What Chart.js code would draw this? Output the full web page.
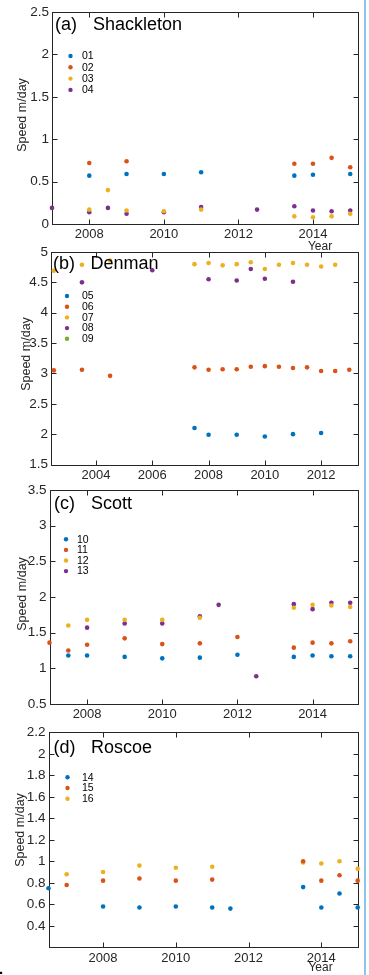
<!DOCTYPE html>
<html><head><meta charset="utf-8">
<script src="https://cdn.jsdelivr.net/npm/chart.js@4.4.1/dist/chart.umd.min.js"></script>
<style>
html,body{margin:0;padding:0;background:#fff;width:369px;height:975px;overflow:hidden;}
canvas{position:absolute;left:0;top:0;}
#edge{position:absolute;left:364px;top:0;width:2px;height:975px;background:#8ec3ea;}
#dot{position:absolute;left:-1px;top:960px;font:bold 15px 'Liberation Sans',Arial,sans-serif;color:#000;}
</style></head><body>
<canvas id="ca" width="369" height="975"></canvas>
<canvas id="cb" width="369" height="975"></canvas>
<canvas id="cc" width="369" height="975"></canvas>
<canvas id="cd" width="369" height="975"></canvas>
<div id="edge"></div>
<span id="dot">.</span>
<script>
// ---------- DATA ----------
// (a) Shackleton
const xTicksA = [2008, 2010, 2012, 2014];
const xLabelsA = ['2008', '2010', '2012', '2014'];
const yTicksA = [0, 0.5, 1, 1.5, 2, 2.5];
const yLabelsA = ['0', '0.5', '1', '1.5', '2', '2.5'];
const s01x = [2008, 2009, 2010, 2011, 2013.5, 2014, 2015];
const s01y = [0.57, 0.59, 0.59, 0.61, 0.57, 0.58, 0.59];
const s02x = [2008, 2009, 2013.5, 2014, 2014.5, 2015];
const s02y = [0.72, 0.74, 0.71, 0.71, 0.78, 0.67];
const s03x = [2008, 2008.5, 2009, 2010, 2011, 2013.5, 2014, 2014.5, 2015];
const s03y = [0.17, 0.40, 0.16, 0.15, 0.17, 0.09, 0.08, 0.09, 0.12];
const s04x = [2007, 2008, 2008.5, 2009, 2010, 2011, 2012.5, 2013.5, 2014, 2014.5, 2015];
const s04y = [0.19, 0.14, 0.19, 0.12, 0.14, 0.20, 0.17, 0.21, 0.16, 0.15, 0.16];

// (b) Denman
const xTicksB = [2004, 2006, 2008, 2010, 2012];
const xLabelsB = ['2004', '2006', '2008', '2010', '2012'];
const yTicksB = [1.5, 2, 2.5, 3, 3.5, 4, 4.5, 5];
const yLabelsB = ['1.5', '2', '2.5', '3', '3.5', '4', '4.5', '5'];
const s05x = [2007.5, 2008, 2009, 2010, 2011, 2012];
const s05y = [2.10, 1.99, 1.99, 1.96, 2.00, 2.02];
const s06x = [2002.5, 2003.5, 2004.5, 2007.5, 2008, 2008.5, 2009, 2009.5, 2010, 2010.5, 2011, 2011.5, 2012, 2012.5, 2013];
const s06y = [3.05, 3.06, 2.96, 3.10, 3.06, 3.07, 3.07, 3.11, 3.12, 3.11, 3.09, 3.10, 3.04, 3.04, 3.06];
const s07x = [2002.5, 2003.5, 2004.5, 2007.5, 2008, 2008.5, 2009, 2009.5, 2010, 2010.5, 2011, 2011.5, 2012, 2012.5];
const s07y = [4.69, 4.79, 4.86, 4.80, 4.82, 4.78, 4.80, 4.83, 4.72, 4.79, 4.82, 4.79, 4.76, 4.79];
const s08x = [2003.5, 2006, 2008, 2009, 2009.5, 2010, 2011];
const s08y = [4.50, 4.70, 4.55, 4.53, 4.72, 4.56, 4.51];
const s09x = [];
const s09y = [];

// (c) Scott
const xTicksC = [2008, 2010, 2012, 2014];
const xLabelsC = ['2008', '2010', '2012', '2014'];
const yTicksC = [0.5, 1, 1.5, 2, 2.5, 3, 3.5];
const yLabelsC = ['0.5', '1', '1.5', '2', '2.5', '3', '3.5'];
const s10x = [2007.5, 2008, 2009, 2010, 2011, 2012, 2013.5, 2014, 2014.5, 2015];
const s10y = [1.18, 1.18, 1.16, 1.14, 1.15, 1.19, 1.16, 1.18, 1.17, 1.17];
const s11x = [2007, 2007.5, 2008, 2009, 2010, 2011, 2012, 2013.5, 2014, 2014.5, 2015];
const s11y = [1.36, 1.25, 1.33, 1.42, 1.34, 1.35, 1.44, 1.29, 1.36, 1.35, 1.38];
const s12x = [2007.5, 2008, 2009, 2010, 2011, 2013.5, 2014, 2014.5, 2015];
const s12y = [1.60, 1.68, 1.68, 1.68, 1.71, 1.85, 1.89, 1.88, 1.86];
const s13x = [2008, 2009, 2010, 2011, 2011.5, 2012.5, 2013.5, 2014, 2014.5, 2015];
const s13y = [1.57, 1.63, 1.63, 1.73, 1.89, 0.89, 1.90, 1.83, 1.92, 1.92];

// (d) Roscoe
const xTicksD = [2008, 2010, 2012, 2014];
const xLabelsD = ['2008', '2010', '2012', '2014'];
const yTicksD = [0.2, 0.4, 0.6, 0.8, 1, 1.2, 1.4, 1.6, 1.8, 2, 2.2];
const yLabelsD = ['', '0.4', '0.6', '0.8', '1', '1.2', '1.4', '1.6', '1.8', '2', '2.2'];
const s14x = [2006.5, 2008, 2009, 2010, 2011, 2011.5, 2013.5, 2014, 2014.5, 2015];
const s14y = [0.75, 0.58, 0.57, 0.58, 0.57, 0.56, 0.76, 0.57, 0.70, 0.57];
const s15x = [2007, 2008, 2009, 2010, 2011, 2013.5, 2014, 2014.5, 2015];
const s15y = [0.78, 0.82, 0.84, 0.82, 0.83, 1.00, 0.82, 0.87, 0.82];
const s16x = [2007, 2008, 2009, 2010, 2011, 2013.5, 2014, 2014.5, 2015];
const s16y = [0.88, 0.90, 0.96, 0.94, 0.95, 0.99, 0.98, 1.00, 0.93];

// ---------- STYLE ----------
const C = ['#0072BD', '#D95319', '#EDB120', '#7E2F8E', '#77AC30'];
const FONT = "'Liberation Sans', Arial, Helvetica, sans-serif";
const AX = '#262626';
const W = 369, H = 975;

function pts(xs, ys) { return xs.map((x, i) => ({x: x, y: ys[i]})); }

const panels = [
  {id: 'ca', tag: '(a)', name: 'Shackleton', top: 12, bottom: 224, left: 52, right: 357.7,
   xmin: 2007, xmax: 2015.2, ymin: 0, ymax: 2.5,
   xTicks: xTicksA, xLabels: xLabelsA, yTicks: yTicksA, yLabels: yLabelsA,
   series: [['01', s01x, s01y], ['02', s02x, s02y], ['03', s03x, s03y], ['04', s04x, s04y]],
   tagX: 55, nameX: 93, titleY: 25, legMx: 70.5, legTx: 82, legY: 56, legDy: 11.3,
   ylx: 23, yly: 115, yearX: 320, yearY: 247},
  {id: 'cb', tag: '(b)', name: 'Denman', top: 252, bottom: 464.5, left: 51, right: 357.7,
   xmin: 2002.4, xmax: 2013.3, ymin: 1.5, ymax: 5,
   xTicks: xTicksB, xLabels: xLabelsB, yTicks: yTicksB, yLabels: yLabelsB,
   series: [['05', s05x, s05y], ['06', s06x, s06y], ['07', s07x, s07y], ['08', s08x, s08y], ['09', s09x, s09y]],
   tagX: 53, nameX: 90.5, titleY: 264, legMx: 67, legTx: 82, legY: 296, legDy: 10.7,
   ylx: 27, yly: 354},
  {id: 'cc', tag: '(c)', name: 'Scott', top: 490, bottom: 704, left: 49.5, right: 357.7,
   xmin: 2007, xmax: 2015.2, ymin: 0.5, ymax: 3.5,
   xTicks: xTicksC, xLabels: xLabelsC, yTicks: yTicksC, yLabels: yLabelsC,
   series: [['10', s10x, s10y], ['11', s11x, s11y], ['12', s12x, s12y], ['13', s13x, s13y]],
   tagX: 54, nameX: 91, titleY: 504, legMx: 66, legTx: 77, legY: 539.3, legDy: 10.6,
   ylx: 23, yly: 594},
  {id: 'cd', tag: '(d)', name: 'Roscoe', top: 732.3, bottom: 947.3, left: 48.5, right: 357.7,
   xmin: 2006.5, xmax: 2015, ymin: 0.2, ymax: 2.2,
   xTicks: xTicksD, xLabels: xLabelsD, yTicks: yTicksD, yLabels: yLabelsD,
   series: [['14', s14x, s14y], ['15', s15x, s15y], ['16', s16x, s16y]],
   tagX: 53.5, nameX: 91, titleY: 748.5, legMx: 67.5, legTx: 82, legY: 777.3, legDy: 10.7,
   ylx: 21, yly: 830, yearX: 320.5, yearY: 968}
];

function makePlugin(P) {
  return {
    id: 'frame_' + P.id,
    beforeDatasetsDraw(chart) {
      const ctx = chart.ctx, a = chart.chartArea;
      const xs = chart.scales.x, ys = chart.scales.y;
      ctx.save();
      ctx.strokeStyle = AX; ctx.lineWidth = 1;
      const L = Math.round(a.left) + 0.5, R = Math.round(a.right) + 0.5;
      const T = Math.round(a.top) + 0.5, B = Math.round(a.bottom) + 0.5;
      ctx.strokeRect(L, T, R - L, B - T);
      ctx.beginPath();
      xs.ticks.forEach(t => {
        const px = Math.round(xs.getPixelForValue(t.value)) + 0.5;
        ctx.moveTo(px, B); ctx.lineTo(px, B - 5);
        ctx.moveTo(px, T); ctx.lineTo(px, T + 5);
      });
      ys.ticks.forEach(t => {
        const py = Math.round(ys.getPixelForValue(t.value)) + 0.5;
        ctx.moveTo(L, py); ctx.lineTo(L + 5, py);
        ctx.moveTo(R, py); ctx.lineTo(R - 5, py);
      });
      ctx.stroke();
      ctx.restore();
    },
    afterDatasetsDraw(chart) {
      const ctx = chart.ctx;
      ctx.save();
      ctx.fillStyle = '#000';
      ctx.textBaseline = 'middle';
      ctx.textAlign = 'left';
      ctx.font = '18px ' + FONT;
      ctx.fillText(P.tag, P.tagX, P.titleY);
      ctx.fillText(P.name, P.nameX, P.titleY);
      // legend
      ctx.font = '10.5px ' + FONT;
      chart.data.datasets.forEach((ds, i) => {
        const y = P.legY + i * P.legDy;
        ctx.beginPath();
        ctx.fillStyle = ds.backgroundColor;
        ctx.arc(P.legMx, y, 2.2, 0, Math.PI * 2);
        ctx.fill();
        ctx.fillStyle = '#000';
        ctx.fillText(ds.label, P.legTx, y + 0.5);
      });
      // y label
      ctx.fillStyle = AX;
      ctx.font = '12.5px ' + FONT;
      ctx.save();
      ctx.translate(P.ylx, P.yly);
      ctx.rotate(-Math.PI / 2);
      ctx.textAlign = 'center';
      ctx.fillText('Speed m/day', 0, 0);
      ctx.restore();
      if (P.yearY) {
        ctx.textAlign = 'center';
        ctx.font = '12px ' + FONT;
        ctx.fillText('Year', P.yearX, P.yearY);
      }
      ctx.restore();
    }
  };
}

panels.forEach(P => {
  const datasets = P.series.map((s, i) => ({
    label: s[0],
    data: pts(s[1], s[2]),
    backgroundColor: C[i],
    borderColor: C[i],
    pointRadius: 2.3,
    pointBorderWidth: 0,
    pointHoverRadius: 2.3,
    showLine: false,
    clip: false
  }));
  new Chart(document.getElementById(P.id), {
    type: 'scatter',
    data: {datasets: datasets},
    options: {
      responsive: false, animation: false, devicePixelRatio: 1,
      events: [],
      layout: {padding: {left: 0, right: W - P.right, top: P.top, bottom: H - P.bottom - 20}},
      plugins: {legend: {display: false}, tooltip: {enabled: false}, title: {display: false}},
      scales: {
        x: {
          type: 'linear', min: P.xmin, max: P.xmax,
          grid: {display: false, drawTicks: false}, border: {display: false},
          ticks: {autoSkip: false, maxRotation: 0, padding: 3, color: AX,
                  font: {family: FONT, size: 13},
                  callback: (v, i) => P.xLabels[i]},
          afterBuildTicks: s => { s.ticks = P.xTicks.map(v => ({value: v})); },
          afterFit: s => { s.height = 20; }
        },
        y: {
          type: 'linear', min: P.ymin, max: P.ymax,
          grid: {display: false, drawTicks: false}, border: {display: false},
          ticks: {autoSkip: false, padding: 3, color: AX,
                  font: {family: FONT, size: 13.5},
                  callback: (v, i) => P.yLabels[i]},
          afterBuildTicks: s => { s.ticks = P.yTicks.map(v => ({value: v})); },
          afterFit: s => { s.width = P.left; }
        }
      }
    },
    plugins: [makePlugin(P)]
  });
});
</script>
</body></html>
